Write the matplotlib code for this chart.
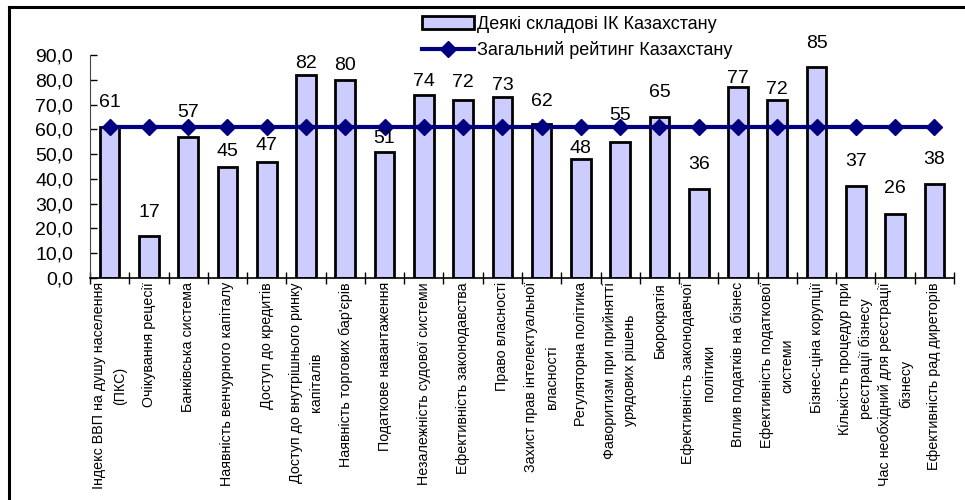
import matplotlib
matplotlib.use("Agg")
import matplotlib.pyplot as plt
from matplotlib.lines import Line2D
from matplotlib.patches import Patch
import numpy as np

plt.rcParams['font.family'] = ['Liberation Sans', 'DejaVu Sans']

categories = [
    "Індекс ВВП на душу населення\n(ПКС)",
    "Очікування рецесії",
    "Банківська система",
    "Наявність венчурного капіталу",
    "Доступ до кредитів",
    "Доступ до внутрішнього ринку\nкапіталів",
    "Наявність торгових бар'єрів",
    "Податкове навантаження",
    "Незалежність судової системи",
    "Ефективність законодавства",
    "Право власності",
    "Захист прав інтелектуальної\nвласності",
    "Регуляторна політика",
    "Фаворитизм при прийнятті\nурядових рішень",
    "Бюрократія",
    "Ефективність законодавчої\nполітики",
    "Вплив податків на бізнес",
    "Ефективність податкової\nсистеми",
    "Бізнес-ціна корупції",
    "Кількість процедур при\nреєстрації бізнесу",
    "Час необхідний для реєстрації\nбізнесу",
    "Ефективність рад диреторів",
]
components = [61, 17, 57, 45, 47, 82, 80, 51, 74, 72, 73, 62, 48, 55, 65, 36, 77, 72, 85, 37, 26, 38]
overall = [61] * len(categories)
yticks = [0, 10, 20, 30, 40, 50, 60, 70, 80, 90]
bar_label = "Деякі складові ІК Казахстану"
line_label = "Загальний рейтинг Казахстану"

# label offsets above bar tops (pixels) - styling only
label_gap_px = [24, 23, 24, 15, 16, 11, 14, 13, 13, 17, 12, 23, 11, 26, 24, 24, 9, 10, 24, 25, 25, 24]

fig = plt.figure(figsize=(9.65, 5.0), dpi=100)
ax = fig.add_axes([0.0933, 0.444, 0.8953, 0.446])

x = np.arange(len(categories))
ax.bar(x, components, width=0.5, color='#CCCCFF', edgecolor='black', linewidth=2, zorder=2)
ax.plot(x, overall, color='#000080', linewidth=3.0, marker='D', markersize=8.5, zorder=3)

for xi, v, g in zip(x, components, label_gap_px):
    ax.annotate(f"{v}", (xi, v), xytext=(0, g), textcoords='offset pixels',
                ha='center', va='center', fontsize=14, zorder=4)

ax.set_xlim(-0.5, len(categories) - 0.5)
ax.set_ylim(0, 90)
ax.set_yticks(yticks)
ax.set_yticklabels([f"{t:.1f}".replace('.', ',') for t in yticks], fontsize=14)
ax.tick_params(axis='y', direction='in', length=5, width=1, pad=12)

ax.set_xticks(np.arange(len(categories) + 1) - 0.5)
ax.set_xticklabels([])
ax.tick_params(axis='x', which='major', direction='inout', length=8, width=1)
ax.set_xticks(x, minor=True)
ax.set_xticklabels(categories, minor=True, rotation=90, fontsize=10.3,
                   ha='center', va='top', multialignment='center', linespacing=1.6)
ax.tick_params(axis='x', which='minor', length=0, pad=3)

for s in ['top', 'right']:
    ax.spines[s].set_visible(False)
ax.spines['left'].set_color('#444444')
ax.spines['bottom'].set_linewidth(1.2)

handles = [Patch(facecolor='#CCCCFF', edgecolor='black', linewidth=2),
           Line2D([0], [0], color='#000080', linewidth=3.0, marker='D', markersize=8.5)]
leg = fig.legend(handles, [bar_label, line_label], loc='upper left',
                 bbox_to_anchor=(0.42, 1.001), frameon=False, fontsize=13,
                 handlelength=2.9, handletextpad=0.15, labelspacing=0.45)

# figure border (left and top visible)
fig.add_artist(Line2D([0.0098, 0.0098], [0.0, 0.986], transform=fig.transFigure,
                      color='black', linewidth=2.2))
fig.add_artist(Line2D([0.0098, 1.0], [0.986, 0.986], transform=fig.transFigure,
                      color='black', linewidth=2.2))

fig.savefig("out.png", dpi=100)
